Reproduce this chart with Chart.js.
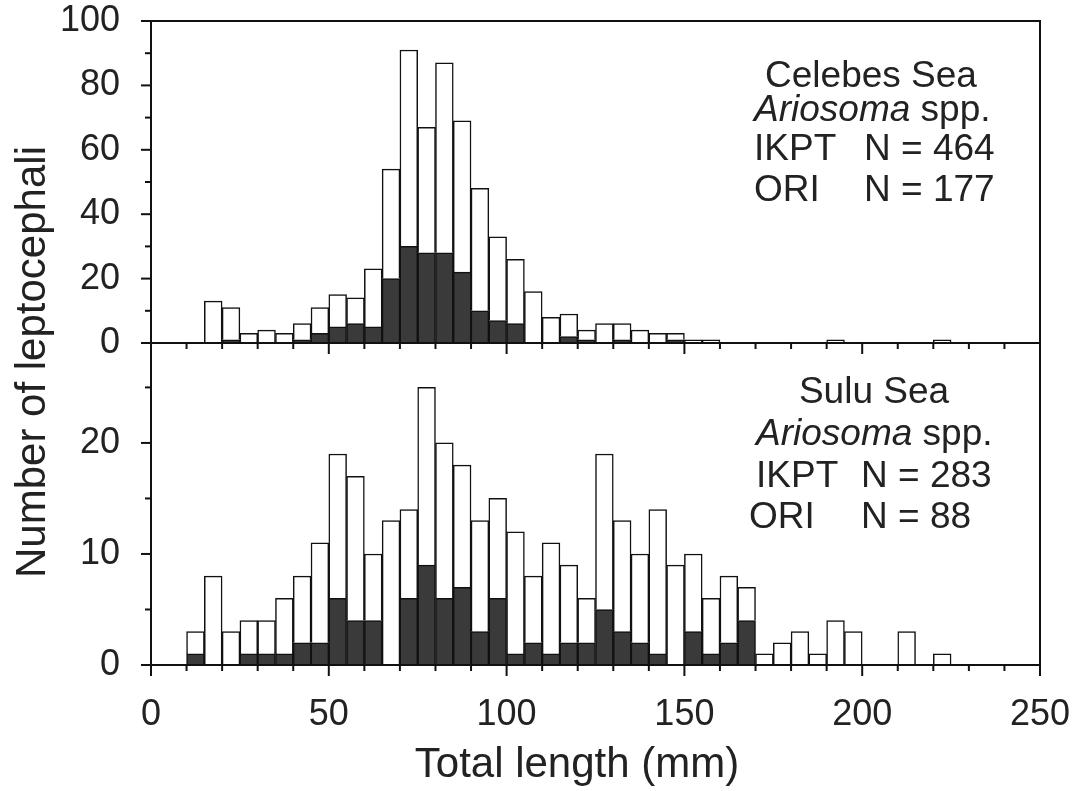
<!DOCTYPE html>
<html>
<head>
<meta charset="utf-8">
<script src="https://cdn.jsdelivr.net/npm/chart.js@4.4.0/dist/chart.umd.min.js"></script>
<style>
  body { margin: 0; background: #fff; }
  #wrap { width: 1078px; height: 791px; }
</style>
</head>
<body>
<div id="wrap"><canvas id="histo"></canvas></div>
<script>
// 5 mm length classes (start of class, mm)
const binWidth = 5;
const binStart = [0,5,10,15,20,25,30,35,40,45,50,55,60,65,70,75,80,85,90,95,
  100,105,110,115,120,125,130,135,140,145,150,155,160,165,170,175,180,185,190,195,
  200,205,210,215,220,225,230,235,240,245];

// Celebes Sea, Ariosoma spp.
const celebesORI  = [0,0,0,0,1,0,0,0,1,3,5,6,5,20,30,28,28,22,10,7,
  6,0,0,2,1,0,1,0,0,1,0,0,0,0,0,0,0,0,0,0,
  0,0,0,0,0,0,0,0,0,0];
const celebesIKPT = [0,0,0,13,10,3,4,3,5,8,10,8,18,34,61,39,59,47,38,26,
  20,16,8,7,3,6,5,4,3,2,1,1,0,0,0,0,0,0,1,0,
  0,0,0,0,1,0,0,0,0,0];

// Sulu Sea, Ariosoma spp.
const suluORI  = [0,0,1,0,0,1,1,1,2,2,6,4,4,0,6,9,6,7,3,6,
  1,2,1,2,2,5,3,2,1,0,3,1,2,4,0,0,0,0,0,0,
  0,0,0,0,0,0,0,0,0,0];
const suluIKPT = [0,0,2,8,3,3,3,5,6,9,13,13,6,13,8,16,14,11,10,9,
  11,6,10,7,4,14,10,8,13,9,7,5,6,3,1,2,3,1,4,3,
  0,0,3,0,1,0,0,0,0,0];

const celebesText = ['Celebes Sea', 'IKPT', 'N = 464', 'ORI', 'N = 177'];
const suluText = ['Sulu Sea', 'IKPT', 'N = 283', 'ORI', 'N = 88'];

const INK = '#111';
const DARK = '#3a3a3a';
const FONT = "'Liberation Sans', Arial, sans-serif";

function points(values) {
  return binStart.map((s, i) => ({ x: s + binWidth / 2, y: values[i] }));
}

function barSet(label, values, axis, fill) {
  return {
    label: label,
    data: points(values),
    yAxisID: axis,
    backgroundColor: fill,
    borderColor: INK,
    borderWidth: 1.5,
    barPercentage: 1,
    categoryPercentage: 1,
    grouped: false
  };
}

function line(ctx, x1, y1, x2, y2) {
  ctx.beginPath();
  ctx.moveTo(x1, y1);
  ctx.lineTo(x2, y2);
  ctx.stroke();
}

// axes get fixed sizes and no label overflow padding
function fixSize(prop, size) {
  return s => {
    s[prop] = size;
    s.paddingTop = s.paddingBottom = s.paddingLeft = s.paddingRight = 0;
  };
}

// legend block: title centred, then species line and the two N lines
function drawBlock(ctx, t, cx, left, nx, ys, leftOri) {
  ctx.fillStyle = '#222';
  ctx.textBaseline = 'alphabetic';
  ctx.font = '37px ' + FONT;
  ctx.textAlign = 'center';
  ctx.fillText(t[0], cx, ys[0]);
  ctx.textAlign = 'left';
  ctx.font = 'italic 37px ' + FONT;
  ctx.fillText('Ariosoma', left, ys[1]);
  const w = ctx.measureText('Ariosoma').width;
  ctx.font = '37px ' + FONT;
  ctx.fillText(' spp.', left + w, ys[1]);
  ctx.fillText(t[1], left, ys[2]);
  ctx.fillText(t[2], nx, ys[2]);
  ctx.fillText(t[3], leftOri, ys[3]);
  ctx.fillText(t[4], nx, ys[3]);
}

const decor = {
  id: 'decor',
  afterDraw(chart) {
    const { ctx, chartArea: a, scales } = chart;
    const x = scales.x, yc = scales.yCel, ys = scales.ySulu;
    const mid = yc.getPixelForValue(0);
    ctx.save();
    ctx.strokeStyle = INK;
    ctx.lineWidth = 2;
    ctx.strokeRect(a.left, a.top, a.right - a.left, a.bottom - a.top);
    line(ctx, a.left, mid, a.right, mid);

    // x ticks below both baselines
    x.ticks.forEach(t => {
      const px = x.getPixelForValue(t.value);
      const len = t.value % 50 === 0 ? 11 : 6;
      line(ctx, px, mid, px, mid + len);
      line(ctx, px, a.bottom, px, a.bottom + len);
    });
    // y ticks
    [[yc, 20], [ys, 10]].forEach(([s, step]) => {
      s.ticks.forEach(t => {
        const py = s.getPixelForValue(t.value);
        const len = t.value % step === 0 ? 10 : 6;
        line(ctx, a.left - len, py, a.left, py);
      });
    });

    // axis titles
    ctx.fillStyle = '#222';
    ctx.font = '42px ' + FONT;
    ctx.textAlign = 'center';
    ctx.textBaseline = 'alphabetic';
    ctx.fillText('Total length (mm)', 577, 777);
    ctx.save();
    ctx.translate(45, 362);
    ctx.rotate(-Math.PI / 2);
    ctx.fillText('Number of leptocephali', 0, 0);
    ctx.restore();

    drawBlock(ctx, celebesText, a.right - 169, a.right - 286, a.right - 176,
      [a.top + 66, a.top + 100, a.top + 139, a.top + 180], a.right - 286);
    drawBlock(ctx, suluText, a.right - 166, a.right - 284, a.right - 179,
      [mid + 60, mid + 102, mid + 144, mid + 185], a.right - 291);
    ctx.restore();
  }
};

const tickFont = { family: FONT, size: 36 };

new Chart(document.getElementById('histo'), {
  type: 'bar',
  data: {
    datasets: [
      barSet('Sulu ORI', suluORI, 'ySulu', DARK),
      barSet('Sulu IKPT', suluIKPT, 'ySulu', '#fff'),
      barSet('Celebes ORI', celebesORI, 'yCel', DARK),
      barSet('Celebes IKPT', celebesIKPT, 'yCel', '#fff')
    ]
  },
  options: {
    responsive: true,
    maintainAspectRatio: false,
    animation: false,
    layout: { padding: { left: 0, right: 38, top: 21, bottom: 0 } },
    plugins: { legend: { display: false }, tooltip: { enabled: false } },
    scales: {
      x: {
        type: 'linear',
        min: 0,
        max: 250,
        offset: false,
        grid: { display: false, drawTicks: true, tickLength: 10 },
        border: { display: false },
        ticks: {
          stepSize: 10,
          autoSkip: false,
          maxRotation: 0,
          padding: 18,
          color: '#222',
          font: tickFont,
          callback: v => (v % 50 === 0 ? v : '')
        },
        afterFit: fixSize('height', 126)
      },
      ySulu: {
        type: 'linear',
        position: 'left',
        stack: 'panels',
        stackWeight: 1,
        stacked: true,
        min: 0,
        max: 29,
        grid: { display: false, drawTicks: true, tickLength: 10 },
        border: { display: false },
        ticks: {
          stepSize: 5,
          autoSkip: false,
          includeBounds: false,
          padding: 21,
          color: '#222',
          font: tickFont,
          callback: v => (v % 10 === 0 ? v : '')
        },
        afterFit: fixSize('width', 151)
      },
      yCel: {
        type: 'linear',
        position: 'left',
        stack: 'panels',
        stackWeight: 1,
        stacked: true,
        min: 0,
        max: 100,
        grid: { display: false, drawTicks: true, tickLength: 10 },
        border: { display: false },
        ticks: {
          stepSize: 10,
          autoSkip: false,
          padding: 21,
          color: '#222',
          font: tickFont,
          callback: v => (v % 20 === 0 ? v : '')
        },
        afterFit: fixSize('width', 151)
      }
    }
  },
  plugins: [decor]
});
</script>
</body>
</html>
